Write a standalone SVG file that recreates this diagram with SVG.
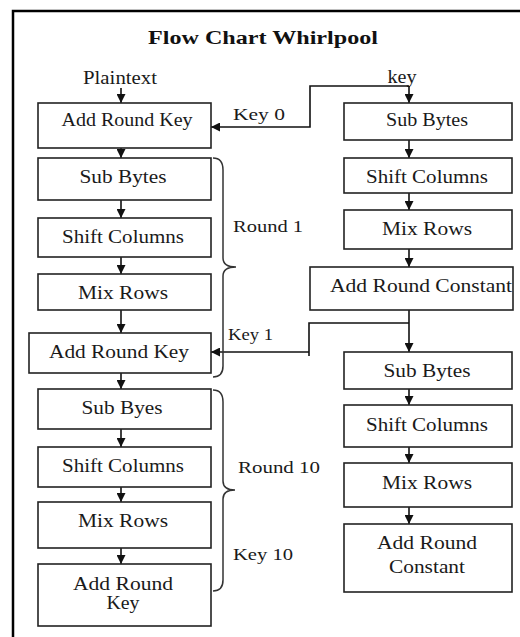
<svg xmlns="http://www.w3.org/2000/svg" width="520" height="637" viewBox="0 0 520 637">
<defs>
<marker id="ah" viewBox="0 0 10 10" refX="10" refY="5" markerWidth="9" markerHeight="9" markerUnits="userSpaceOnUse" orient="auto">
<path d="M0,0 L10,5 L0,10 z" fill="#111"/>
</marker>
<style>
.box{fill:#fff;stroke:#222;stroke-width:1.6}
.t{font-family:"Liberation Serif","Times New Roman",serif;font-size:18px;fill:#1a1a1a;text-anchor:middle}
.lbl{font-family:"Liberation Serif","Times New Roman",serif;font-size:16px;fill:#1a1a1a}
.title{font-family:"Liberation Serif","Times New Roman",serif;font-size:18px;font-weight:bold;fill:#111}
.c{fill:none;stroke:#111;stroke-width:1.6}
.ar{fill:none;stroke:#111;stroke-width:1.6;marker-end:url(#ah)}
.br{fill:none;stroke:#333;stroke-width:1.5}
.border{fill:none;stroke:#000;stroke-width:2.5}
</style>
</defs>
<rect width="520" height="637" fill="#fff"/>
<path class="border" d="M13,637 V11 H520"/>
<text class="title" x="148" y="44" textLength="230" lengthAdjust="spacingAndGlyphs">Flow Chart Whirlpool</text>

<g id="labels">
<text class="t" x="120" y="84" textLength="74" lengthAdjust="spacingAndGlyphs">Plaintext</text>
<text class="t" x="402" y="83" textLength="29" lengthAdjust="spacingAndGlyphs">key</text>
<text class="lbl" x="233" y="120" textLength="52" lengthAdjust="spacingAndGlyphs">Key 0</text>
<text class="lbl" x="233" y="232" textLength="70" lengthAdjust="spacingAndGlyphs">Round 1</text>
<text class="lbl" x="228" y="340" textLength="45" lengthAdjust="spacingAndGlyphs">Key 1</text>
<text class="lbl" x="238" y="473" textLength="82" lengthAdjust="spacingAndGlyphs">Round 10</text>
<text class="lbl" x="233" y="560" textLength="60" lengthAdjust="spacingAndGlyphs">Key 10</text>
</g>

<g id="connectors">
<path class="ar" d="M121,88 V103"/>
<path class="ar" d="M121,148 V158"/>
<path class="ar" d="M121,200 V218"/>
<path class="ar" d="M121,257 V274"/>
<path class="ar" d="M121,310 V333"/>
<path class="ar" d="M121,373 V389"/>
<path class="ar" d="M121,429 V447"/>
<path class="ar" d="M121,487 V502"/>
<path class="ar" d="M121,548 V564"/>
<path class="ar" d="M409,86 V103"/>
<path class="ar" d="M409,140 V158"/>
<path class="ar" d="M409,193 V210"/>
<path class="ar" d="M409,249 V267"/>
<path class="ar" d="M409,310 V352"/>
<path class="ar" d="M409,389 V405"/>
<path class="ar" d="M409,447 V463"/>
<path class="ar" d="M409,507 V524"/>
<path class="ar" d="M409,86 H310 V127 H211"/>
<path class="c" d="M409,323 H309 V356"/>
<path class="ar" d="M309,352 H211"/>
<path class="br" d="M213,158 Q223,158 223,170 V258 Q223,267 236,267 Q223,267 223,276 V366 Q223,377 213,377"/>
<path class="br" d="M213,390 Q223,390 223,402 V481 Q223,490 235,490 Q223,490 223,499 V580 Q223,591 213,591"/>
</g>

<g id="ark1"><rect class="box" x="38" y="103" width="173" height="45"/><text class="t" x="127" y="126" textLength="131" lengthAdjust="spacingAndGlyphs">Add Round Key</text></g>
<g id="sb1"><rect class="box" x="38" y="158" width="173" height="42"/><text class="t" x="123" y="183" textLength="87" lengthAdjust="spacingAndGlyphs">Sub Bytes</text></g>
<g id="sc1"><rect class="box" x="38" y="218" width="173" height="39"/><text class="t" x="123" y="243" textLength="122" lengthAdjust="spacingAndGlyphs">Shift Columns</text></g>
<g id="mr1"><rect class="box" x="38" y="274" width="173" height="36"/><text class="t" x="123" y="299" textLength="90" lengthAdjust="spacingAndGlyphs">Mix Rows</text></g>
<g id="ark2"><rect class="box" x="29" y="333" width="182" height="40"/><text class="t" x="119" y="358" textLength="140" lengthAdjust="spacingAndGlyphs">Add Round Key</text></g>
<g id="sb10"><rect class="box" x="38" y="389" width="173" height="40"/><text class="t" x="122" y="414" textLength="81" lengthAdjust="spacingAndGlyphs">Sub Byes</text></g>
<g id="sc10"><rect class="box" x="38" y="447" width="173" height="40"/><text class="t" x="123" y="472" textLength="122" lengthAdjust="spacingAndGlyphs">Shift Columns</text></g>
<g id="mr10"><rect class="box" x="38" y="502" width="173" height="46"/><text class="t" x="123" y="527" textLength="90" lengthAdjust="spacingAndGlyphs">Mix Rows</text></g>
<g id="ark10"><rect class="box" x="38" y="564" width="173" height="62"/><text class="t" x="123" y="590" textLength="100" lengthAdjust="spacingAndGlyphs">Add Round</text><text class="t" x="123" y="609" textLength="33" lengthAdjust="spacingAndGlyphs">Key</text></g>

<g id="ksb1"><rect class="box" x="344" y="103" width="168" height="37"/><text class="t" x="427" y="126" textLength="82" lengthAdjust="spacingAndGlyphs">Sub Bytes</text></g>
<g id="ksc1"><rect class="box" x="344" y="158" width="168" height="35"/><text class="t" x="427" y="183" textLength="122" lengthAdjust="spacingAndGlyphs">Shift Columns</text></g>
<g id="kmr1"><rect class="box" x="344" y="210" width="168" height="39"/><text class="t" x="427" y="235" textLength="90" lengthAdjust="spacingAndGlyphs">Mix Rows</text></g>
<g id="karc1"><rect class="box" x="310" y="267" width="203" height="43"/><text class="t" x="421" y="292" textLength="182" lengthAdjust="spacingAndGlyphs">Add Round Constant</text></g>
<g id="ksb2"><rect class="box" x="344" y="352" width="168" height="37"/><text class="t" x="427" y="377" textLength="87" lengthAdjust="spacingAndGlyphs">Sub Bytes</text></g>
<g id="ksc2"><rect class="box" x="344" y="405" width="168" height="42"/><text class="t" x="427" y="431" textLength="122" lengthAdjust="spacingAndGlyphs">Shift Columns</text></g>
<g id="kmr2"><rect class="box" x="344" y="463" width="168" height="44"/><text class="t" x="427" y="489" textLength="90" lengthAdjust="spacingAndGlyphs">Mix Rows</text></g>
<g id="karc2"><rect class="box" x="344" y="524" width="168" height="68"/><text class="t" x="427" y="549" textLength="100" lengthAdjust="spacingAndGlyphs">Add Round</text><text class="t" x="427" y="573" textLength="76" lengthAdjust="spacingAndGlyphs">Constant</text></g>
</svg>
